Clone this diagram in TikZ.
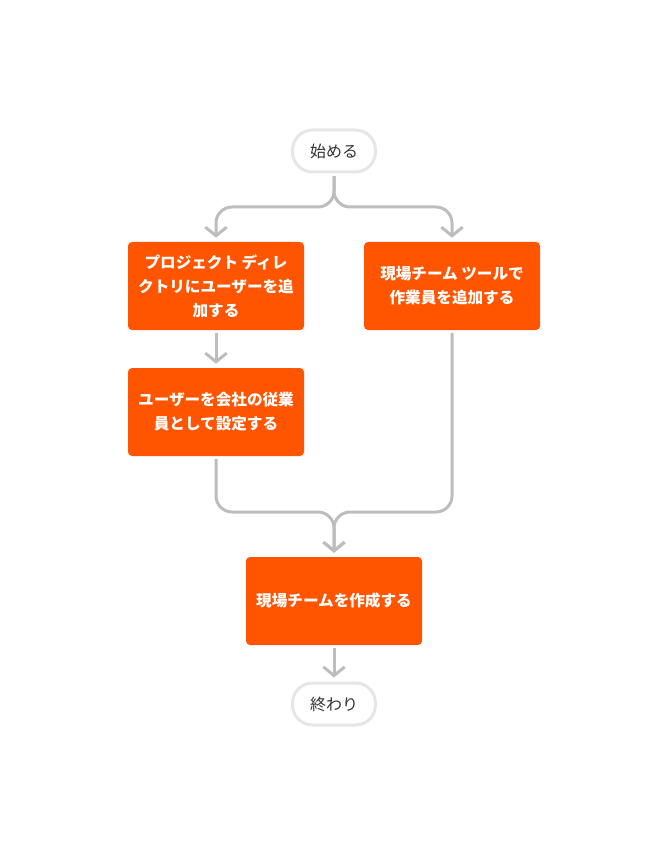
\documentclass[tikz,border=0pt]{standalone}
\usepackage{fontspec}
\newfontfamily\jpfont{Noto Sans CJK JP}
\usetikzlibrary{arrows.meta,positioning}
\definecolor{flowred}{HTML}{FF5500}
\definecolor{linegray}{HTML}{BDBDBD}
\definecolor{ringgray}{HTML}{E6E6E6}

\begin{document}
\begin{tikzpicture}[x=0.75pt, y=-0.75pt,
  task/.style={rectangle, fill=flowred, rounded corners=3pt, minimum width=132pt, minimum height=66pt, text=white, align=center, font=\jpfont\bfseries\fontsize{11.7}{18}\selectfont},
  term/.style={rectangle, draw=ringgray, line width=2.25pt, rounded corners=15pt, minimum width=62.25pt, minimum height=31.5pt, fill=white, text=black!80, font=\jpfont\fontsize{12}{14}\selectfont},
  flow/.style={draw=linegray, line width=2.25pt, rounded corners=12pt, -{Straight Barb[length=6.5pt, width=16pt]}, shorten >=3pt, shorten <=2pt}]
  \useasboundingbox (0,0) rectangle (668,855);
  \node[term] (start) at (334,151) {始める};
  \node[task] (adddir) at (216,286) {プロジェクト ディレ\\クトリにユーザーを追\\加する};
  \node[task] (addtool) at (452,286) {現場チーム ツールで\\作業員を追加する};
  \node[task] (setemp) at (216,412) {ユーザーを会社の従業\\員として設定する};
  \node[task] (mkteam) at (334,601) {現場チームを作成する};
  \node[term] (finish) at (334,704) {終わり};
  % forks
  \draw[flow] (start.south) |- (216,207) -- (adddir.north);
  \draw[flow] (start.south) |- (452,207) -- (addtool.north);
  \draw[flow] (adddir) -- (setemp);
  % merge
  \draw[flow] (setemp.south) |- (334,512) -- (mkteam.north);
  \draw[flow] (addtool.south) |- (334,512) -- (mkteam.north);
  \draw[flow] (mkteam) -- (finish);
\end{tikzpicture}
\end{document}
